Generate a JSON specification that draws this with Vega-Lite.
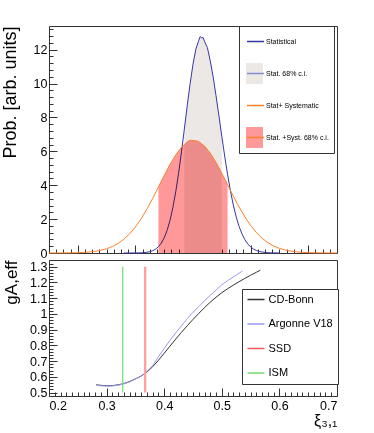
{
  "$schema": "https://vega.github.io/schema/vega-lite/v6.json",
  "background": "white",
  "padding": {"left": 0, "top": 25, "right": 0, "bottom": 0},
  "spacing": 7,
  "bounds": "flush",
  "resolve": {"scale": {"stroke": "independent", "fill": "independent"}, "legend": {"stroke": "independent", "fill": "independent"}},
  "config": {
    "font": "Liberation Sans",
    "view": {"stroke": "#333333", "strokeWidth": 1},
    "axis": {"labelColor": "#000000", "tickColor": "#333333", "titleColor": "#000000", "titleFontWeight": "normal", "labelFont": "Liberation Sans", "titleFont": "Liberation Sans", "grid": false},
    "legend": {"labelColor": "#000000", "labelFont": "Liberation Sans"}
  },
  "datasets": {
    "stat": [
      {"x": 0.33, "p": 0}, {"x": 0.34, "p": 0.001}, {"x": 0.35, "p": 0.003}, {"x": 0.355, "p": 0.006},
      {"x": 0.36, "p": 0.012}, {"x": 0.365, "p": 0.023}, {"x": 0.37, "p": 0.043}, {"x": 0.375, "p": 0.077},
      {"x": 0.38, "p": 0.134}, {"x": 0.385, "p": 0.226}, {"x": 0.39, "p": 0.37}, {"x": 0.395, "p": 0.586},
      {"x": 0.4, "p": 0.898}, {"x": 0.405, "p": 1.33}, {"x": 0.41, "p": 1.92}, {"x": 0.415, "p": 2.67},
      {"x": 0.42, "p": 3.61}, {"x": 0.425, "p": 4.71}, {"x": 0.43, "p": 5.97}, {"x": 0.435, "p": 7.32},
      {"x": 0.44, "p": 8.7}, {"x": 0.445, "p": 10.0}, {"x": 0.45, "p": 11.15}, {"x": 0.455, "p": 12.04},
      {"x": 0.46, "p": 12.55}, {"x": 0.4625, "p": 12.78}, {"x": 0.465, "p": 12.7}, {"x": 0.4675, "p": 12.72},
      {"x": 0.47, "p": 12.5}, {"x": 0.4725, "p": 12.3}, {"x": 0.475, "p": 12.12}, {"x": 0.48, "p": 11.34},
      {"x": 0.485, "p": 10.39}, {"x": 0.49, "p": 9.28}, {"x": 0.495, "p": 8.1}, {"x": 0.5, "p": 6.89},
      {"x": 0.505, "p": 5.72}, {"x": 0.51, "p": 4.64}, {"x": 0.515, "p": 3.67}, {"x": 0.52, "p": 2.83},
      {"x": 0.525, "p": 2.13}, {"x": 0.53, "p": 1.57}, {"x": 0.535, "p": 1.13}, {"x": 0.54, "p": 0.789},
      {"x": 0.545, "p": 0.539}, {"x": 0.55, "p": 0.359}, {"x": 0.555, "p": 0.234}, {"x": 0.56, "p": 0.148},
      {"x": 0.565, "p": 0.092}, {"x": 0.57, "p": 0.056}, {"x": 0.575, "p": 0.033}, {"x": 0.58, "p": 0.019},
      {"x": 0.585, "p": 0.01}, {"x": 0.59, "p": 0.005}, {"x": 0.6, "p": 0}
    ],
    "syst": [
      {"x": 0.2, "p": 0.001}, {"x": 0.21, "p": 0.002}, {"x": 0.22, "p": 0.003}, {"x": 0.23, "p": 0.006},
      {"x": 0.24, "p": 0.011}, {"x": 0.25, "p": 0.02}, {"x": 0.26, "p": 0.035}, {"x": 0.27, "p": 0.06},
      {"x": 0.28, "p": 0.1}, {"x": 0.29, "p": 0.161}, {"x": 0.3, "p": 0.251}, {"x": 0.31, "p": 0.382},
      {"x": 0.32, "p": 0.565}, {"x": 0.33, "p": 0.812}, {"x": 0.34, "p": 1.133}, {"x": 0.35, "p": 1.537},
      {"x": 0.36, "p": 2.024}, {"x": 0.37, "p": 2.592}, {"x": 0.38, "p": 3.224}, {"x": 0.39, "p": 3.897},
      {"x": 0.4, "p": 4.577}, {"x": 0.41, "p": 5.224}, {"x": 0.42, "p": 5.792}, {"x": 0.43, "p": 6.242},
      {"x": 0.44, "p": 6.56}, {"x": 0.445, "p": 6.66}, {"x": 0.45, "p": 6.64}, {"x": 0.455, "p": 6.62},
      {"x": 0.46, "p": 6.573}, {"x": 0.47, "p": 6.314}, {"x": 0.48, "p": 5.893}, {"x": 0.49, "p": 5.345},
      {"x": 0.5, "p": 4.71}, {"x": 0.51, "p": 4.033}, {"x": 0.52, "p": 3.356}, {"x": 0.53, "p": 2.713},
      {"x": 0.54, "p": 2.132}, {"x": 0.55, "p": 1.627}, {"x": 0.56, "p": 1.207}, {"x": 0.57, "p": 0.87},
      {"x": 0.58, "p": 0.609}, {"x": 0.59, "p": 0.415}, {"x": 0.6, "p": 0.274}, {"x": 0.61, "p": 0.176},
      {"x": 0.62, "p": 0.11}, {"x": 0.63, "p": 0.067}, {"x": 0.64, "p": 0.039}, {"x": 0.65, "p": 0.022},
      {"x": 0.66, "p": 0.012}, {"x": 0.67, "p": 0.007}, {"x": 0.68, "p": 0.004}, {"x": 0.69, "p": 0.002},
      {"x": 0.7, "p": 0.001}
    ],
    "cdbonn": [
      {"x": 0.282, "g": 0.549}, {"x": 0.29, "g": 0.546}, {"x": 0.3, "g": 0.543}, {"x": 0.31, "g": 0.544},
      {"x": 0.32, "g": 0.549}, {"x": 0.33, "g": 0.557}, {"x": 0.34, "g": 0.57}, {"x": 0.35, "g": 0.587},
      {"x": 0.36, "g": 0.605}, {"x": 0.37, "g": 0.63}, {"x": 0.38, "g": 0.664}, {"x": 0.39, "g": 0.705},
      {"x": 0.4, "g": 0.75}, {"x": 0.41, "g": 0.795}, {"x": 0.42, "g": 0.84}, {"x": 0.43, "g": 0.883},
      {"x": 0.44, "g": 0.925}, {"x": 0.45, "g": 0.965}, {"x": 0.46, "g": 1.003}, {"x": 0.47, "g": 1.04},
      {"x": 0.48, "g": 1.075}, {"x": 0.49, "g": 1.106}, {"x": 0.5, "g": 1.135}, {"x": 0.51, "g": 1.16},
      {"x": 0.52, "g": 1.183}, {"x": 0.53, "g": 1.205}, {"x": 0.54, "g": 1.226}, {"x": 0.55, "g": 1.246},
      {"x": 0.56, "g": 1.265}, {"x": 0.567, "g": 1.278}
    ],
    "av18": [
      {"x": 0.282, "g": 0.546}, {"x": 0.29, "g": 0.543}, {"x": 0.3, "g": 0.541}, {"x": 0.31, "g": 0.542},
      {"x": 0.32, "g": 0.547}, {"x": 0.33, "g": 0.555}, {"x": 0.34, "g": 0.568}, {"x": 0.35, "g": 0.585},
      {"x": 0.36, "g": 0.605}, {"x": 0.37, "g": 0.633}, {"x": 0.38, "g": 0.672}, {"x": 0.39, "g": 0.728},
      {"x": 0.4, "g": 0.78}, {"x": 0.41, "g": 0.832}, {"x": 0.42, "g": 0.879}, {"x": 0.43, "g": 0.925},
      {"x": 0.44, "g": 0.97}, {"x": 0.45, "g": 1.011}, {"x": 0.46, "g": 1.047}, {"x": 0.47, "g": 1.084},
      {"x": 0.48, "g": 1.118}, {"x": 0.49, "g": 1.151}, {"x": 0.5, "g": 1.185}, {"x": 0.51, "g": 1.212},
      {"x": 0.52, "g": 1.235}, {"x": 0.53, "g": 1.259}, {"x": 0.536, "g": 1.273}
    ],
    "vlines": [
      {"model": "SSD", "x": 0.367, "y1": 0.5, "y2": 1.3},
      {"model": "ISM", "x": 0.328, "y1": 0.5, "y2": 1.3}
    ]
  },
  "vconcat": [
    {
      "width": 288,
      "height": 227,
      "resolve": {"axis": {"x": "independent", "y": "independent"}},
      "layer": [
        {
          "data": {"name": "stat"},
          "transform": [{"filter": "datum.x >= 0.434 && datum.x <= 0.501"}],
          "mark": {"type": "area", "interpolate": "linear"},
          "encoding": {
            "x": {"field": "x", "type": "quantitative", "scale": {"domain": [0.2, 0.7], "nice": false, "zero": false},
              "axis": {"orient": "bottom", "values": [0.25, 0.35, 0.45, 0.55, 0.65], "tickSize": -8, "labels": false, "domain": false, "title": null}},
            "y": {"field": "p", "type": "quantitative", "scale": {"domain": [0, 13.4], "nice": false, "zero": false},
              "axis": {"orient": "left", "values": [0, 2, 4, 6, 8, 10, 12], "format": "~g", "ticks": false, "domain": false, "labelFontSize": 12.5, "labelPadding": 2, "title": "Prob. [arb. units]", "titleFontSize": 18, "titleAnchor": "end", "titlePadding": 14}},
            "fill": {"datum": "Stat. 68% c.i.", "type": "nominal",
              "scale": {"domain": ["Statistical", "Stat. 68% c.i.", "Stat+ Systematic", "Stat. +Syst. 68% c.i."], "range": ["rgba(0,0,0,0)", "#ebe8e6", "rgba(0,0,0,0)", "#ff9999"]},
              "legend": {"orient": "none", "legendX": 190, "legendY": 0, "title": null, "symbolType": "M-0.81,-1H0.81V1H-0.81Z", "symbolSize": 441, "symbolStrokeWidth": 0, "labelFontSize": 7, "labelOffset": 1, "rowPadding": 11, "padding": 5, "clipHeight": 21, "strokeColor": "#333333", "labelLimit": 200}}
          }
        },
        {
          "data": {"name": "stat"},
          "mark": {"type": "line", "strokeWidth": 1},
          "encoding": {
            "x": {"field": "x", "type": "quantitative", "scale": {"domain": [0.2, 0.7], "nice": false, "zero": false},
              "axis": {"orient": "bottom", "values": [0.2125, 0.225, 0.2375, 0.2625, 0.275, 0.2875, 0.3, 0.3125, 0.325, 0.3375, 0.3625, 0.375, 0.3875, 0.4, 0.4125, 0.425, 0.4375, 0.4625, 0.475, 0.4875, 0.5, 0.5125, 0.525, 0.5375, 0.5625, 0.575, 0.5875, 0.6, 0.6125, 0.625, 0.6375, 0.6625, 0.675, 0.6875], "tickSize": -4, "labels": false, "domain": false, "title": null}},
            "y": {"field": "p", "type": "quantitative", "scale": {"domain": [0, 13.4], "nice": false, "zero": false},
              "axis": {"orient": "left", "values": [0, 2, 4, 6, 8, 10, 12], "tickSize": -8, "labels": false, "domain": false, "title": null}},
            "stroke": {"datum": "s1", "type": "nominal",
              "scale": {"domain": ["s1", "s2", "s3", "s4"], "range": ["#3636a8", "#8a8ad0", "#ff7f2a", "#ff7f2a"]},
              "legend": {"orient": "none", "legendX": 190, "legendY": 0, "title": null, "symbolType": "M-0.81,0H0.81", "symbolSize": 441, "symbolStrokeWidth": 1.5, "symbolFillColor": "transparent", "labelFontSize": 7, "labelOffset": 1, "rowPadding": 11, "padding": 5, "clipHeight": 21, "labelExpr": "''"}}
          }
        },
        {
          "data": {"name": "syst"},
          "transform": [{"filter": "datum.x >= 0.389 && datum.x <= 0.511"}],
          "mark": {"type": "area", "interpolate": "linear", "blend": "multiply"},
          "encoding": {
            "x": {"field": "x", "type": "quantitative", "scale": {"domain": [0.2, 0.7], "nice": false, "zero": false}, "axis": null},
            "y": {"field": "p", "type": "quantitative", "scale": {"domain": [0, 13.4], "nice": false, "zero": false},
              "axis": {"orient": "left", "values": [0.4, 0.8, 1.2, 1.6, 2.4, 2.8, 3.2, 3.6, 4.4, 4.8, 5.2, 5.6, 6.4, 6.8, 7.2, 7.6, 8.4, 8.8, 9.2, 9.6, 10.4, 10.8, 11.2, 11.6, 12.4, 12.8, 13.2], "tickSize": -4, "labels": false, "domain": false, "title": null}},
            "fill": {"datum": "Stat. +Syst. 68% c.i.", "type": "nominal"}
          }
        },
        {
          "data": {"name": "syst"},
          "mark": {"type": "line", "strokeWidth": 1},
          "encoding": {
            "x": {"field": "x", "type": "quantitative", "scale": {"domain": [0.2, 0.7], "nice": false, "zero": false}, "axis": null},
            "y": {"field": "p", "type": "quantitative", "scale": {"domain": [0, 13.4], "nice": false, "zero": false}, "axis": null},
            "stroke": {"datum": "s3", "type": "nominal"}
          }
        }
      ]
    },
    {
      "width": 288,
      "height": 136,
      "resolve": {"axis": {"x": "independent", "y": "independent"}},
      "layer": [
        {
          "data": {"name": "cdbonn"},
          "mark": {"type": "line", "strokeWidth": 1},
          "encoding": {
            "x": {"field": "x", "type": "quantitative", "scale": {"domain": [0.2, 0.7], "nice": false, "zero": false},
              "axis": {"orient": "bottom", "values": [0.2, 0.3, 0.4, 0.5, 0.6, 0.7], "format": "~g", "ticks": false, "domain": false, "labelFontSize": 12.5, "labelPadding": 3, "title": "ξ₃,₁", "titleFontSize": 16, "titleAnchor": "end", "titlePadding": 1}},
            "y": {"field": "g", "type": "quantitative", "scale": {"domain": [0.478, 1.343], "nice": false, "zero": false},
              "axis": {"orient": "left", "values": [0.5, 0.6, 0.7, 0.8, 0.9, 1, 1.1, 1.2, 1.3], "format": "~g", "ticks": false, "domain": false, "labelFontSize": 12.5, "labelPadding": 2, "title": "gA,eff", "titleFontSize": 17, "titleAnchor": "end", "titlePadding": 9}},
            "stroke": {"datum": "CD-Bonn", "type": "nominal",
              "scale": {"domain": ["CD-Bonn", "Argonne V18", "SSD", "ISM"], "range": ["#333333", "#9a9af0", "#ff5a5a", "#6fdc6f"]},
              "legend": {"orient": "none", "legendX": 193, "legendY": 29, "title": null, "symbolType": "M-1,0H1", "symbolSize": 289, "symbolStrokeWidth": 1.3, "labelFontSize": 11, "labelOffset": 3, "rowPadding": 12.5, "padding": 4.5, "clipHeight": 12, "strokeColor": "#333333", "fillColor": "#ffffff"}}
          }
        },
        {
          "data": {"name": "av18"},
          "mark": {"type": "line", "strokeWidth": 1},
          "encoding": {
            "x": {"field": "x", "type": "quantitative", "scale": {"domain": [0.2, 0.7], "nice": false, "zero": false},
              "axis": {"orient": "bottom", "values": [0.2, 0.3, 0.4, 0.5, 0.6, 0.7], "tickSize": -8, "labels": false, "domain": false, "title": null}},
            "y": {"field": "g", "type": "quantitative", "scale": {"domain": [0.478, 1.343], "nice": false, "zero": false},
              "axis": {"orient": "left", "values": [0.5, 0.6, 0.7, 0.8, 0.9, 1, 1.1, 1.2, 1.3], "tickSize": -8, "labels": false, "domain": false, "title": null}},
            "stroke": {"datum": "Argonne V18", "type": "nominal"}
          }
        },
        {
          "data": {"name": "vlines"},
          "transform": [{"filter": "datum.model === 'SSD'"}],
          "mark": {"type": "rule", "color": "#ff9a9a", "strokeWidth": 2.2},
          "encoding": {
            "x": {"field": "x", "type": "quantitative", "scale": {"domain": [0.2, 0.7], "nice": false, "zero": false},
              "axis": {"orient": "bottom", "values": [0.21, 0.22, 0.23, 0.24, 0.25, 0.26, 0.27, 0.28, 0.29, 0.31, 0.32, 0.33, 0.34, 0.35, 0.36, 0.37, 0.38, 0.39, 0.41, 0.42, 0.43, 0.44, 0.45, 0.46, 0.47, 0.48, 0.49, 0.51, 0.52, 0.53, 0.54, 0.55, 0.56, 0.57, 0.58, 0.59, 0.61, 0.62, 0.63, 0.64, 0.65, 0.66, 0.67, 0.68, 0.69], "tickSize": -4, "labels": false, "domain": false, "title": null}},
            "y": {"field": "y1", "type": "quantitative", "scale": {"domain": [0.478, 1.343], "nice": false, "zero": false},
              "axis": {"orient": "left", "values": [0.48, 0.52, 0.54, 0.56, 0.58, 0.62, 0.64, 0.66, 0.68, 0.72, 0.74, 0.76, 0.78, 0.82, 0.84, 0.86, 0.88, 0.92, 0.94, 0.96, 0.98, 1.02, 1.04, 1.06, 1.08, 1.12, 1.14, 1.16, 1.18, 1.22, 1.24, 1.26, 1.28, 1.32, 1.34], "tickSize": -4, "labels": false, "domain": false, "title": null}},
            "y2": {"field": "y2"}
          }
        },
        {
          "data": {"name": "vlines"},
          "transform": [{"filter": "datum.model === 'ISM'"}],
          "mark": {"type": "rule", "color": "#6fdc6f", "strokeWidth": 1.2},
          "encoding": {
            "x": {"field": "x", "type": "quantitative", "scale": {"domain": [0.2, 0.7], "nice": false, "zero": false}, "axis": null},
            "y": {"field": "y1", "type": "quantitative", "scale": {"domain": [0.478, 1.343], "nice": false, "zero": false}, "axis": null},
            "y2": {"field": "y2"}
          }
        }
      ]
    }
  ]
}
